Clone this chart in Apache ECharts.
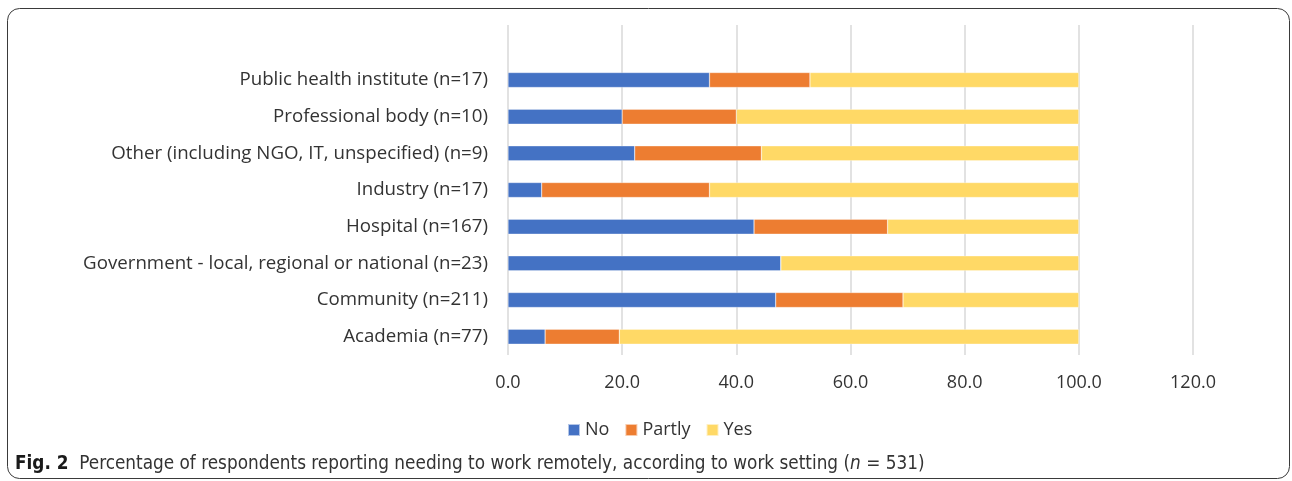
<!DOCTYPE html>
<html>
<head>
<meta charset="utf-8">
<script src="https://cdn.jsdelivr.net/npm/echarts@6/dist/echarts.min.js"></script>
<style>
  html, body { margin: 0; padding: 0; background: #fff; }
  #chart { width: 1292px; height: 481px; }
</style>
</head>
<body>
<div id="chart"></div>
<script>
// categories bottom -> top (last one is the empty slot above the top bar)
const categories = [
  'Academia (n=77)',
  'Community (n=211)',
  'Government - local, regional or national (n=23)',
  'Hospital (n=167)',
  'Industry (n=17)',
  'Other (including NGO, IT, unspecified) (n=9)',
  'Professional body (n=10)',
  'Public health institute (n=17)',
  ''
]
const noValues = [6.5, 46.9, 47.8, 43.1, 5.9, 22.2, 20.0, 35.3]
const partlyValues = [13.0, 22.3, 0, 23.4, 29.4, 22.2, 20.0, 17.6]
const yesValues = [80.5, 30.8, 52.2, 33.5, 64.7, 55.6, 60.0, 47.1]
const seriesNames = ['No', 'Partly', 'Yes']
const colors = ['#4472C4', '#ED7D31', '#FFD966']

const font = '"Open Sans", Lato, sans-serif'
const capFont = '"DejaVu Sans Condensed", "Liberation Sans Narrow", sans-serif'
const myChart = echarts.init(document.getElementById('chart'))

const makeSeries = (name, data, i) => ({
  name: name,
  type: 'bar',
  stack: 'total',
  barWidth: 15,
  data: data,
  itemStyle: { color: colors[i], borderColor: 'rgba(255,255,255,0.6)', borderWidth: 0.5 },
  emphasis: { disabled: true }
})

myChart.setOption({
  animation: false,
  color: colors,
  graphic: [
    {
      type: 'rect',
      shape: { x: 7.5, y: 8.5, width: 1282, height: 470, r: 12 },
      style: { fill: 'none', stroke: '#3a3a3a', lineWidth: 1 },
      z: -1
    }
  ],
  title: {
    left: 10,
    top: 450,
    text: '{b|Fig. 2}  Percentage of respondents reporting needing to work remotely, according to work setting ({i|n} = 531)',
    textStyle: {
      fontFamily: capFont,
      fontSize: 18.8,
      fontWeight: 'normal',
      color: '#333',
      rich: {
        b: { fontWeight: 'bold', fontSize: 18.8, color: '#1a1a1a', fontFamily: capFont },
        i: { fontStyle: 'italic', fontSize: 18.8, color: '#333', fontFamily: capFont }
      }
    }
  },
  legend: {
    data: seriesNames,
    left: 562,
    top: 416,
    icon: 'rect',
    itemWidth: 12,
    itemHeight: 12,
    itemGap: 15,
    textStyle: { fontFamily: font, fontSize: 18, color: '#333' }
  },
  grid: { left: 508, right: 99, top: 25, bottom: 126 },
  xAxis: {
    type: 'value',
    min: 0,
    max: 120,
    interval: 20,
    axisLine: { show: false },
    axisTick: { show: false },
    axisLabel: {
      margin: 19,
      fontFamily: font,
      fontSize: 18,
      color: '#333',
      formatter: (v) => v.toFixed(1)
    },
    splitLine: { show: true, lineStyle: { color: '#d9d9d9', width: 1.5 } }
  },
  yAxis: {
    type: 'category',
    data: categories,
    axisLine: { show: false },
    axisTick: { show: false },
    axisLabel: { margin: 20, fontFamily: font, fontSize: 18.7, color: '#333' }
  },
  series: [
    makeSeries('No', noValues, 0),
    makeSeries('Partly', partlyValues, 1),
    makeSeries('Yes', yesValues, 2)
  ]
})
</script>
</body>
</html>
